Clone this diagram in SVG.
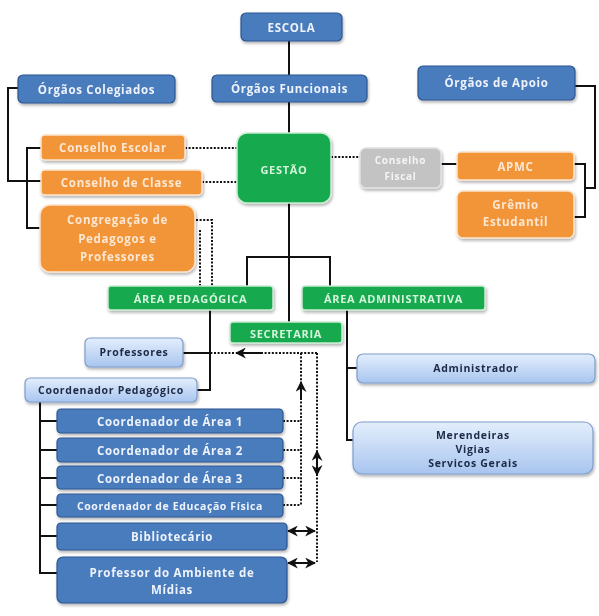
<svg xmlns="http://www.w3.org/2000/svg" width="599" height="616" viewBox="0 0 599 616">
<style>
text{font-family:"Open Sans","Noto Sans","Liberation Sans",sans-serif;font-weight:bold;text-anchor:middle;dominant-baseline:central;letter-spacing:0.7px}
.db rect{fill:#4a7bbd;stroke:#2d558f;stroke-width:1.2}
.db text{fill:#eef3fb;font-size:11.5px}
.or rect{fill:#f29438;stroke:#fbe3cc;stroke-width:1.5}
.or text{fill:#fde7d2;font-size:11.5px}
.gr rect{fill:#12a94e;stroke:#c9ecd2;stroke-width:1.5}
.gr text{fill:#d6f5dc;font-size:11px}
.lb rect{fill:url(#lbg);stroke:#7f9dcc;stroke-width:1.2}
.lb text{fill:#1d2a47;font-size:10.5px}
.gy rect{fill:#c3c3c3;stroke:#e2e2e2;stroke-width:1.5}
.gy text{fill:#f4f4f4;font-size:10px}
.sol{fill:none;stroke:#111;stroke-width:2}
.dot{fill:none;stroke:#111;stroke-width:2;stroke-dasharray:2 1.6}
</style>
<defs>
<linearGradient id="lbg" x1="0" y1="0" x2="0" y2="1">
<stop offset="0" stop-color="#e3eefc"/>
<stop offset="1" stop-color="#a8c5ef"/>
</linearGradient>
<filter id="sh" x="-10%" y="-20%" width="120%" height="150%">
<feDropShadow dx="1" dy="2" stdDeviation="1.5" flood-color="#000" flood-opacity="0.3"/>
</filter>
<marker id="ah" viewBox="0 0 10 10" refX="9" refY="5" markerWidth="5.5" markerHeight="5.5" orient="auto-start-reverse">
<path d="M0,0 L10,5 L0,10 L3,5 z" fill="#111"/>
</marker>
</defs>

<g id="connectors">
<path class="sol" d="M289,41 V133"/>
<path class="sol" d="M289,203 V322"/>
<path class="sol" d="M18,88 H8 V181 H41"/>
<path class="sol" d="M41,148 H27 V228 H40"/>
<path class="sol" d="M575,86 H595 V188 H585"/>
<path class="sol" d="M574,164 H585 V217 H574"/>
<path class="dot" d="M185,148 H237"/>
<path class="dot" d="M202,182 H237"/>
<path class="dot" d="M331,157 H360"/>
<path class="sol" d="M441,164 H457"/>
<path class="dot" d="M196,220 H212 V286"/>
<path class="dot" d="M200,230 V286"/>
<path class="sol" d="M247,286 V257 H330 V286"/>
<path class="sol" d="M210,310 V390 H197"/>
<path class="sol" d="M183,353 H210"/>
<path class="sol" d="M347,310 V440 H353"/>
<path class="sol" d="M347,368 H357"/>
<path class="sol" d="M40,402 V573 H57"/>
<path class="sol" d="M40,421 H57 M40,450 H57 M40,478 H57 M40,505 H57 M40,536 H57"/>
<path class="dot" d="M317,353 H262"/>
<path class="sol" d="M262,353 H236" marker-end="url(#ah)"/>
<path class="dot" d="M234,353 H210"/>
<path class="dot" d="M301,353 V383"/>
<path class="sol" d="M301,398 V382" marker-end="url(#ah)"/>
<path class="dot" d="M301,398 V505"/>
<path class="dot" d="M283,421 H301 M283,450 H301 M283,478 H301 M283,505 H301"/>
<path class="dot" d="M317,353 V452"/>
<path class="sol" d="M317,451 V475" marker-start="url(#ah)" marker-end="url(#ah)"/>
<path class="dot" d="M317,474 V562"/>
<path class="sol" d="M288,531 H315" marker-start="url(#ah)" marker-end="url(#ah)"/>
<path class="sol" d="M288,563 H315" marker-start="url(#ah)" marker-end="url(#ah)"/>
</g>

<g id="escola" class="db" filter="url(#sh)"><rect x="241" y="13" width="101" height="28" rx="5"/><text x="291.5" y="27">ESCOLA</text></g>
<g id="orgaos-funcionais" class="db" filter="url(#sh)"><rect x="212" y="75" width="155" height="27" rx="5"/><text x="289.5" y="88.5">Órgãos Funcionais</text></g>
<g id="orgaos-colegiados" class="db" filter="url(#sh)"><rect x="18" y="75" width="157" height="28" rx="5"/><text x="96.5" y="89">Órgãos  Colegiados</text></g>
<g id="orgaos-apoio" class="db" filter="url(#sh)"><rect x="418" y="66" width="157" height="34" rx="5"/><text x="496.5" y="82">Órgãos de Apoio</text></g>

<g id="conselho-escolar" class="or" filter="url(#sh)"><rect x="41" y="135" width="144" height="25" rx="4"/><text x="113" y="147.5">Conselho Escolar</text></g>
<g id="conselho-classe" class="or" filter="url(#sh)"><rect x="41" y="170" width="161" height="25" rx="4"/><text x="121.5" y="182.5">Conselho de Classe</text></g>
<g id="congregacao" class="or" filter="url(#sh)"><rect x="40" y="205" width="155" height="67" rx="10"/>
<text x="117.5" y="219">Congregação  de</text><text x="117.5" y="238">Pedagogos  e</text><text x="117.5" y="256">Professores</text></g>

<g id="gestao" class="gr" filter="url(#sh)"><rect x="237" y="133" width="94" height="70" rx="10"/><text x="284" y="169">GESTÃO</text></g>
<g id="conselho-fiscal" class="gy" filter="url(#sh)"><rect x="360" y="148" width="81" height="40" rx="6"/><text x="400.5" y="160">Conselho</text><text x="400.5" y="176">Fiscal</text></g>
<g id="apmc" class="or" filter="url(#sh)"><rect x="457" y="152" width="117" height="28" rx="4"/><text x="515.5" y="166">APMC</text></g>
<g id="gremio" class="or" filter="url(#sh)"><rect x="457" y="191" width="117" height="47" rx="6"/><text x="515.5" y="204">Grêmio</text><text x="515.5" y="221">Estudantil</text></g>

<g id="area-pedagogica" class="gr" filter="url(#sh)"><rect x="108" y="286" width="165" height="24" rx="3"/><text x="190.5" y="298">ÁREA PEDAGÓGICA</text></g>
<g id="area-administrativa" class="gr" filter="url(#sh)"><rect x="302" y="286" width="183" height="24" rx="3"/><text x="393.5" y="298">ÁREA ADMINISTRATIVA</text></g>
<g id="secretaria" class="gr" filter="url(#sh)"><rect x="230" y="322" width="112" height="21" rx="3"/><text x="286" y="333">SECRETARIA</text></g>

<g id="professores" class="lb" filter="url(#sh)"><rect x="85" y="338" width="98" height="29" rx="5"/><text x="134" y="352">Professores</text></g>
<g id="coord-pedagogico" class="lb" filter="url(#sh)"><rect x="25" y="378" width="172" height="24" rx="5"/><text x="111" y="390">Coordenador  Pedagógico</text></g>
<g id="administrador" class="lb" filter="url(#sh)"><rect x="357" y="354" width="238" height="29" rx="6"/><text x="476" y="368">Administrador</text></g>
<g id="merendeiras" class="lb" filter="url(#sh)"><rect x="353" y="422" width="240" height="52" rx="9"/>
<text x="473" y="435">Merendeiras</text><text x="473" y="449">Vigias</text><text x="473" y="463">Servicos  Gerais</text></g>

<g id="coord-area-1" class="db" filter="url(#sh)"><rect x="57" y="409" width="226" height="24" rx="4"/><text x="170" y="421">Coordenador de Área 1</text></g>
<g id="coord-area-2" class="db" filter="url(#sh)"><rect x="57" y="438" width="226" height="24" rx="4"/><text x="170" y="450">Coordenador de Área 2</text></g>
<g id="coord-area-3" class="db" filter="url(#sh)"><rect x="57" y="466" width="226" height="23" rx="4"/><text x="170" y="478">Coordenador de Área 3</text></g>
<g id="coord-ed-fisica" class="db" filter="url(#sh)"><rect x="57" y="494" width="226" height="23" rx="4"/><text x="170" y="506" style="font-size:10.5px;letter-spacing:0.6px">Coordenador  de  Educação  Física</text></g>
<g id="bibliotecario" class="db" filter="url(#sh)"><rect x="57" y="523" width="230" height="27" rx="4"/><text x="172" y="536.5">Bibliotecário</text></g>
<g id="prof-ambiente" class="db" filter="url(#sh)"><rect x="57" y="557" width="230" height="46" rx="6"/><text x="172" y="572">Professor do Ambiente de</text><text x="172" y="589">Mídias</text></g>
</svg>
